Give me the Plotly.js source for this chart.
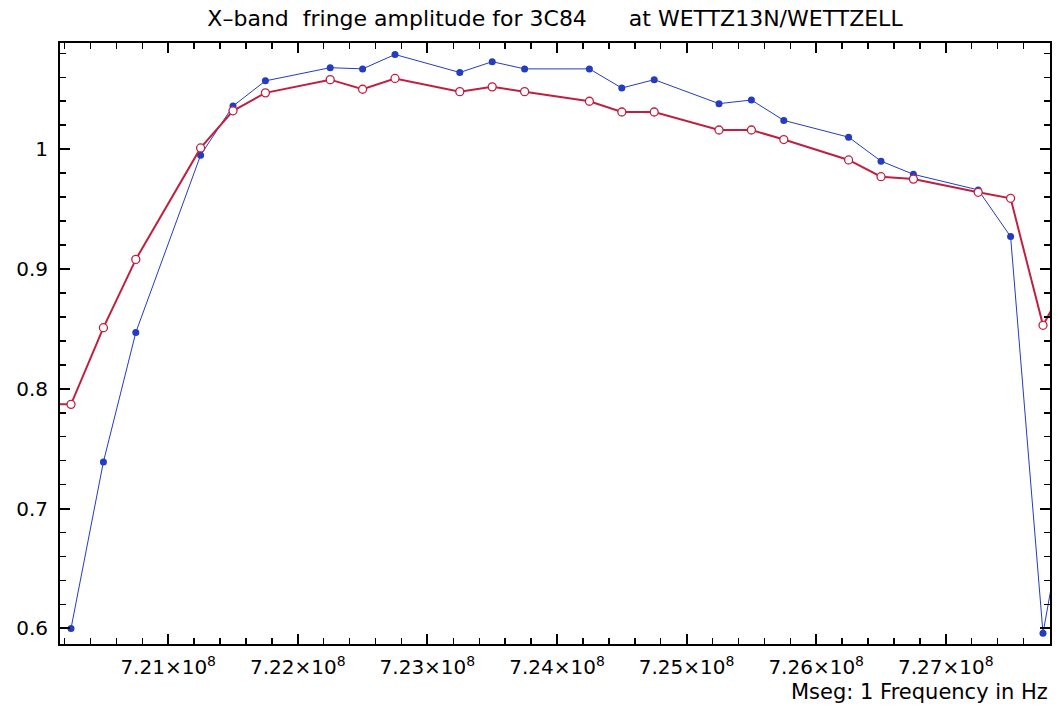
<!DOCTYPE html>
<html>
<head>
<meta charset="utf-8">
<script src="https://cdn.plot.ly/plotly-3.0.1.min.js"></script>
<style>
  html, body { margin: 0; padding: 0; background: #ffffff; }
  #chart { width: 1058px; height: 706px; }
</style>
</head>
<body>
<div id="chart"></div>
<script>
// Frequencies (Hz). First and last entries lie just outside the visible range
// (the lines in the reference continue to the frame edges).
const freqHz = [
  7.2000e8,
  7.2025e8, 7.2050e8, 7.2075e8,
  7.2125e8, 7.2150e8, 7.2175e8,
  7.2225e8, 7.2250e8, 7.2275e8,
  7.2325e8, 7.2350e8, 7.2375e8,
  7.2425e8, 7.2450e8, 7.2475e8,
  7.2525e8, 7.2550e8, 7.2575e8,
  7.2625e8, 7.2650e8, 7.2675e8,
  7.2725e8, 7.2750e8, 7.2775e8,
  7.2800e8
];

// Blue (filled dots) series
const ampBlue = [
  0.600,
  0.600, 0.739, 0.847,
  0.995, 1.036, 1.057,
  1.068, 1.067, 1.079,
  1.064, 1.073, 1.067,
  1.067, 1.051, 1.058,
  1.038, 1.041, 1.024,
  1.010, 0.990, 0.979,
  0.966, 0.927, 0.596,
  0.747
];

// Red (open circles) series
const ampRed = [
  0.787,
  0.787, 0.851, 0.908,
  1.001, 1.032, 1.047,
  1.058, 1.050, 1.059,
  1.048, 1.052, 1.048,
  1.040, 1.031, 1.031,
  1.016, 1.016, 1.008,
  0.991, 0.977, 0.975,
  0.964, 0.959, 0.853,
  0.902
];

const xTickVals = [7.21e8, 7.22e8, 7.23e8, 7.24e8, 7.25e8, 7.26e8, 7.27e8];
const xTickText = ["7.21×10<sup>8</sup>", "7.22×10<sup>8</sup>", "7.23×10<sup>8</sup>",
                   "7.24×10<sup>8</sup>", "7.25×10<sup>8</sup>", "7.26×10<sup>8</sup>",
                   "7.27×10<sup>8</sup>"];
const yTickVals = [0.6, 0.7, 0.8, 0.9, 1];
const yTickText = ["0.6", "0.7", "0.8", "0.9", "1"];

const titleText = "X\u2013band  fringe amplitude for 3C84      at WETTZ13N/WETTZELL";
const xLabel = "Mseg: 1 Frequency in Hz";

const BLUE = "rgb(36,60,192)";
const RED = "rgb(192,32,64)";
const FONT = "DejaVu Sans, sans-serif";

const traces = [
  {
    x: freqHz, y: ampBlue, type: "scatter", mode: "lines+markers",
    line: { color: BLUE, width: 1 },
    marker: { color: BLUE, size: 7, symbol: "circle" },
    showlegend: false, hoverinfo: "x+y"
  },
  {
    x: freqHz, y: ampRed, type: "scatter", mode: "lines+markers",
    line: { color: RED, width: 2 },
    marker: { color: "#ffffff", size: 8, symbol: "circle", line: { color: RED, width: 1.3 } },
    showlegend: false, hoverinfo: "x+y"
  }
];

const layout = {
  width: 1058, height: 706,
  margin: { l: 60, r: 8, t: 43, b: 62 },
  paper_bgcolor: "#ffffff", plot_bgcolor: "#ffffff",
  font: { family: FONT, size: 20, color: "#000000" },
  title: {
    text: titleText,
    font: { family: FONT, size: 22, color: "#000000" },
    x: 0.5, xref: "paper", xanchor: "center",
    y: 1 - 18 / 706, yref: "container", yanchor: "middle"
  },
  xaxis: {
    range: [7.20165e8, 7.27804e8],
    showgrid: false, zeroline: false,
    showline: true, linecolor: "#000000", linewidth: 2, mirror: "ticks",
    ticks: "inside", ticklen: 10, tickwidth: 2, tickcolor: "#000000",
    tickmode: "array", tickvals: xTickVals, ticktext: xTickText,
    ticklabelstandoff: 4,
    tickfont: { family: FONT, size: 20, color: "#000000" },
    minor: { ticks: "inside", ticklen: 6, tickwidth: 1.5, tickcolor: "#000000", dtick: 2e5, tick0: 7.2e8, showgrid: false }
  },
  yaxis: {
    range: [0.587, 1.0886],
    showgrid: false, zeroline: false,
    showline: true, linecolor: "#000000", linewidth: 2, mirror: "ticks",
    ticks: "inside", ticklen: 10, tickwidth: 2, tickcolor: "#000000",
    tickmode: "array", tickvals: yTickVals, ticktext: yTickText,
    ticklabelstandoff: 6,
    tickfont: { family: FONT, size: 20, color: "#000000" },
    minor: { ticks: "inside", ticklen: 6, tickwidth: 1.5, tickcolor: "#000000", dtick: 0.02, tick0: 0.6, showgrid: false }
  },
  annotations: [
    {
      text: xLabel, showarrow: false,
      xref: "paper", yref: "paper", x: 1, y: -0.08,
      xanchor: "right", yanchor: "middle",
      font: { family: FONT, size: 21, color: "#000000" }
    }
  ]
};

Plotly.newPlot("chart", traces, layout, { displayModeBar: false, staticPlot: true });
</script>
</body>
</html>
